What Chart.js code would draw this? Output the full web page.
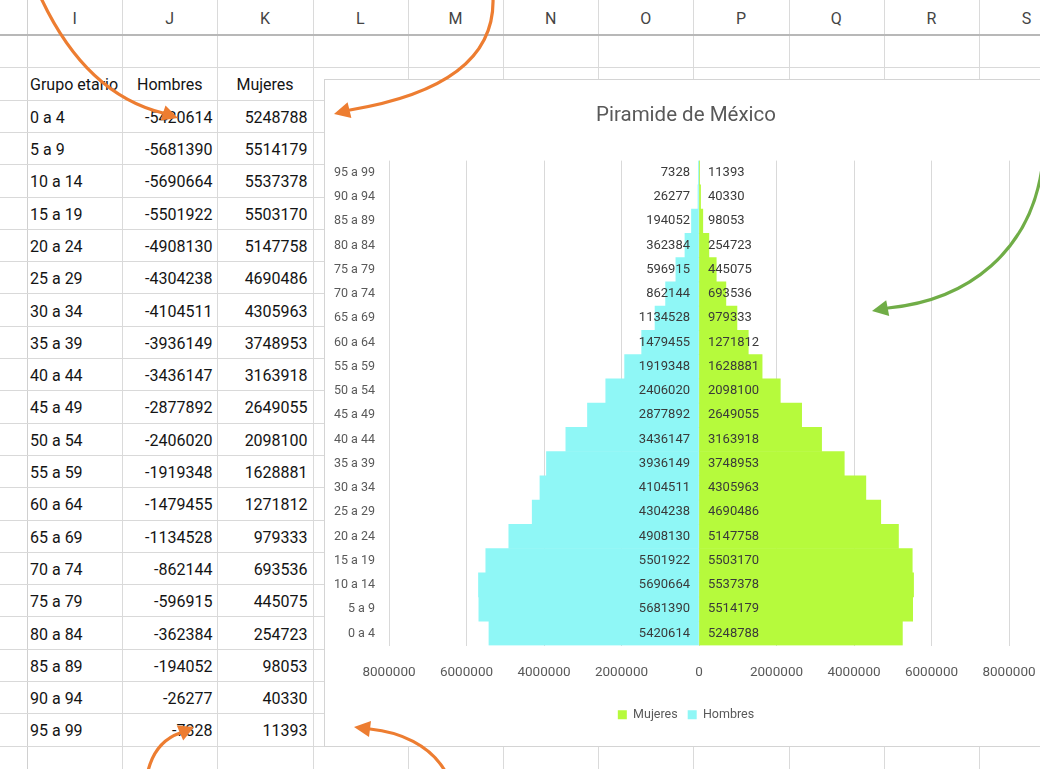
<!DOCTYPE html>
<html>
<head>
<meta charset="utf-8">
<script src="https://cdn.jsdelivr.net/npm/chart.js@4"></script>
<style>
  html, body { margin: 0; padding: 0; background: #fff; overflow: hidden; }
  body { width: 1040px; height: 769px; position: relative; font-family: Roboto, 'Open Sans', sans-serif; }
  .ln { position: absolute; background: #d9d9d9; }
  .txt { position: absolute; white-space: nowrap; color: #141414; font-size: 16px; line-height: 20px; }
  .colhead { position: absolute; text-align: center; color: #444; font-size: 16px; line-height: 20px; top: 9px; }
  #chartBox { position: absolute; left: 324px; top: 79px; width: 730px; height: 668px; border: 1px solid #d4d4d4; background: #fff; box-sizing: border-box; }
  #chartBox canvas { position: absolute; left: 0; top: 0; }
  #arrows { position: absolute; left: 0; top: 0; pointer-events: none; }
</style>
</head>
<body>
<div id="sheet"></div>
<div id="chartBox"><canvas id="piramide" width="722" height="666"></canvas></div>
<svg id="arrows" width="1040" height="769" viewBox="0 0 1040 769">
  <g fill="none" stroke-width="3.2" stroke-linecap="round">
    <path d="M 41 -2 C 70 60, 110 100, 163 113" stroke="#ED7D31"/>
    <path d="M 493 -2 C 495 60, 440 95, 350 110" stroke="#ED7D31"/>
    <path d="M 1042 168 C 1030 250, 970 300, 888 308" stroke="#70AD47"/>
    <path d="M 148 771 C 152 755, 160 740, 180 733" stroke="#ED7D31"/>
    <path d="M 445 771 C 430 745, 400 732, 370 729" stroke="#ED7D31"/>
  </g>
  <polygon points="178,118 165.5,105.4 160.5,120.6" fill="#ED7D31"/>
  <polygon points="334,114 351.4,117.9 347.6,102.3" fill="#ED7D31"/>
  <polygon points="872,311 889.2,316 886.2,300.2" fill="#70AD47"/>
  <polygon points="194,727 183.2,740.4 176.8,725.6" fill="#ED7D31"/>
  <polygon points="354,727 371,721.1 369,736.9" fill="#ED7D31"/>
</svg>

<script>
// Population by age group, Mexico
const grupos = ['0 a 4', '5 a 9', '10 a 14', '15 a 19', '20 a 24', '25 a 29', '30 a 34', '35 a 39',
  '40 a 44', '45 a 49', '50 a 54', '55 a 59', '60 a 64', '65 a 69', '70 a 74', '75 a 79',
  '80 a 84', '85 a 89', '90 a 94', '95 a 99'];
const hombres = [-5420614, -5681390, -5690664, -5501922, -4908130, -4304238, -4104511, -3936149,
  -3436147, -2877892, -2406020, -1919348, -1479455, -1134528, -862144, -596915,
  -362384, -194052, -26277, -7328];
const mujeres = [5248788, 5514179, 5537378, 5503170, 5147758, 4690486, 4305963, 3748953,
  3163918, 2649055, 2098100, 1628881, 1271812, 979333, 693536, 445075,
  254723, 98053, 40330, 11393];
const columnas = ['I', 'J', 'K', 'L', 'M', 'N', 'O', 'P', 'Q', 'R', 'S'];
const encabezados = ['Grupo etario', 'Hombres', 'Mujeres'];
const ejeX = [-8000000, -6000000, -4000000, -2000000, 0, 2000000, 4000000, 6000000, 8000000];

// ---- worksheet grid ----
const sheet = document.getElementById('sheet');
const COL0 = 27, COLW = 95.2, ROW0 = 35, ROWH = 32.3;
function add(cls, css, text) {
  const d = document.createElement('div');
  d.className = cls;
  Object.assign(d.style, css);
  if (text !== undefined) d.textContent = text;
  sheet.appendChild(d);
  return d;
}
// vertical column borders
for (let c = 0; c <= columnas.length; c++) {
  const x = Math.round(COL0 + c * COLW);
  add('ln', { left: x + 'px', top: '0px', width: '1px', height: '769px', background: c === 0 ? '#d0d0d0' : '#dadada' });
}
// horizontal row borders
for (let r = 1; r < 23; r++) {
  const y = Math.round(ROW0 + r * ROWH);
  add('ln', { left: '0px', top: y + 'px', width: '1040px', height: '1px' });
}
// header underline
add('ln', { left: '0px', top: (ROW0 - 1) + 'px', width: '1040px', height: '2px', background: '#b8b8b8' });
// column letters
columnas.forEach((l, c) => {
  add('colhead', { left: (COL0 + c * COLW) + 'px', width: COLW + 'px' }, l);
});
// table headers
const hdrY = ROW0 + 1.5 * ROWH - 8;
add('txt', { left: '30px', top: hdrY + 'px' }, encabezados[0]);
add('txt', { left: (COL0 + COLW) + 'px', width: COLW + 'px', textAlign: 'center', top: hdrY + 'px' }, encabezados[1]);
add('txt', { left: (COL0 + 2 * COLW) + 'px', width: COLW + 'px', textAlign: 'center', top: hdrY + 'px' }, encabezados[2]);
// table rows
grupos.forEach((g, i) => {
  const y = ROW0 + (2.5 + i) * ROWH - 8;
  add('txt', { left: '30px', top: y + 'px' }, g);
  add('txt', { left: (COL0 + COLW) + 'px', width: (COLW - 5) + 'px', textAlign: 'right', top: y + 'px' }, String(hombres[i]));
  add('txt', { left: (COL0 + 2 * COLW) + 'px', width: (COLW - 5) + 'px', textAlign: 'right', top: y + 'px' }, String(mujeres[i]));
});

// ---- pyramid chart ----
const FONT = "Roboto, 'Open Sans', sans-serif";

// value labels at the inner base of each bar
const etiquetas = {
  id: 'etiquetas',
  afterDatasetsDraw(chart) {
    const ctx = chart.ctx;
    const zero = chart.scales.x.getPixelForValue(0);
    ctx.save();
    ctx.font = '13px ' + FONT;
    ctx.fillStyle = '#3a3a3a';
    ctx.textBaseline = 'middle';
    chart.data.datasets.forEach((ds, i) => {
      chart.getDatasetMeta(i).data.forEach((bar, j) => {
        const v = ds.data[j];
        ctx.textAlign = v < 0 ? 'right' : 'left';
        ctx.fillText(String(Math.abs(v)), v < 0 ? zero - 9 : zero + 9, bar.y);
      });
    });
    ctx.restore();
  }
};

new Chart(document.getElementById('piramide'), {
  type: 'bar',
  data: {
    labels: grupos,
    datasets: [
      { label: 'Mujeres', data: mujeres, backgroundColor: '#B6FA3C', barPercentage: 1, categoryPercentage: 1 },
      { label: 'Hombres', data: hombres, backgroundColor: '#8FF7F6', barPercentage: 1, categoryPercentage: 1 }
    ]
  },
  options: {
    indexAxis: 'y',
    responsive: false,
    animation: false,
    layout: { padding: { left: 0, right: 0, top: 0, bottom: 15 } },
    scales: {
      x: {
        stacked: true,
        min: ejeX[0],
        max: ejeX[ejeX.length - 1],
        afterBuildTicks(scale) { scale.ticks = ejeX.map(v => ({ value: v })); },
        afterFit(scale) {
          scale.height = 53;
          scale.paddingLeft = 0;
          scale.paddingRight = 0;
        },
        ticks: {
          padding: 19,
          color: '#595959',
          font: { family: FONT, size: 13.5 },
          maxRotation: 0,
          callback: v => String(Math.abs(v))
        },
        grid: { color: '#d9d9d9', drawTicks: false },
        border: { display: false }
      },
      y: {
        stacked: true,
        reverse: true,
        afterFit(scale) { scale.width = 64; },
        ticks: { padding: 14, color: '#595959', font: { family: FONT, size: 12.5 }, autoSkip: false },
        grid: { display: false, drawTicks: false },
        border: { display: false }
      },
      // empty right-hand margin of the plot area
      margen: {
        type: 'category',
        axis: 'y',
        position: 'right',
        afterFit(scale) { scale.width = 38; },
        ticks: { display: false },
        grid: { display: false, drawTicks: false },
        border: { display: false }
      }
    },
    plugins: {
      title: {
        display: true,
        text: 'Piramide de México',
        color: '#595959',
        font: { family: FONT, size: 20.5, weight: 'normal' },
        padding: { top: 24, bottom: 32 }
      },
      legend: {
        position: 'bottom',
        labels: { boxWidth: 9, boxHeight: 9, color: '#595959', font: { family: FONT, size: 12.5 }, padding: 10 }
      },
      tooltip: { enabled: false }
    }
  },
  plugins: [etiquetas]
});
</script>
</body>
</html>
